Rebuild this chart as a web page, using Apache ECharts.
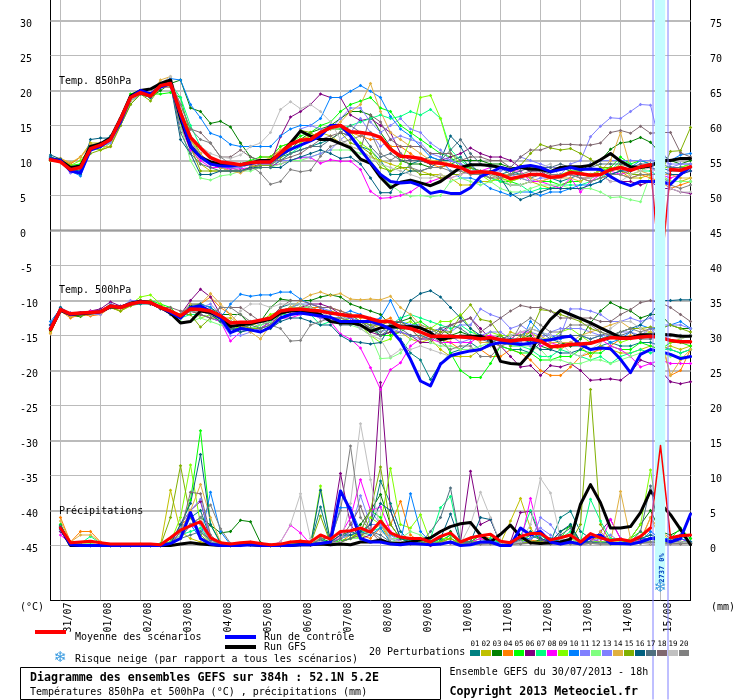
<!DOCTYPE html>
<html><head><meta charset="utf-8">
<style>html,body{margin:0;padding:0;background:#fff}#c{width:740px;height:700px}</style>
<script src="https://cdn.jsdelivr.net/npm/echarts@6/dist/echarts.min.js"></script>
</head><body><div id="c"></div>
<script>
const _ = null;
const dateLabels = ['31/07','01/08','02/08','03/08','04/08','05/08','06/08','07/08','08/08','09/08','10/08','11/08','12/08','13/08','14/08','15/08'];
const dateTickIndex = [1,5,9,13,17,21,25,29,33,37,41,45,49,53,57,61];
const leftTicks = [30,25,20,15,10,5,0,-5,-10,-15,-20,-25,-30,-35,-40,-45];
const rightTicks = [75,70,65,60,55,50,45,40,35,30,25,20,15,10,5,0];
const heavyLines = [30,20,10,-10,-20,-30,-40];
const lightLines = [25,15,5,-5,-15,-25,-35,-45];
const memberColors = ['#008080','#c0c000','#008000','#ff8000','#00ff00','#800080','#00ff80','#ff00ff','#80ff00','#0080ff','#8080ff','#80ff80','#8080ff','#e0b040','#80b000','#006080','#507080','#806870','#c0c0c0','#808080'];

const meanT850 = [10.1,9.8,8.7,9,11.7, 12.2,13,15.9,19,19.7, 19.2,20.7,21,16.8,13.3, 11.8,10.4,9.8,9.6,9.4, 9.7,9.8,9.8,11.1,12.3, 12.9,13,14,14.7,15, 14.1,14,13.8,13.3,11.6, 10.6,10.5,10.3,9.7,9.6, 9.3,9,8.3,8.4,8.3, 8,7.4,7.7,8,8, 7.6,7.7,8.3,8.1,7.9, 8,8.7,9,8.6,9.1, 9.4,-7,8.7,8.6,9.1];
const controlT850 = [10.2,10,8.5,8.2,11.5, 12,13,15.5,19,20, 19.5,20.5,21,16.5,12, 10.5,9.5,9.2,9.2,9.4, 9.6,9.8,9.8,10.8,11.6, 12.2,12.8,13.5,15,15, 13.5,11.6,9.7,8,7, 6.8,6.9,6.4,5.3,5.6, 5.3,5.3,6.1,7.7,8.3, 9,8.6,9.1,9.3,9, 8.4,8.7,9,8.7,8.8, 8.7,7.7,6.9,6.4,7, 7,7,6.6,8,9.1];
const gfsT850 = [10.2,10,9,9.2,12, 12.4,13.2,16,19.2,20, 20.2,21,21.5,16,12, 10.5,9.8,9.5,9.4,9.4, 9.6,10,10,11,12.5, 14.2,13.5,13,13,12.4, 11.8,10.2,9.6,7.6,6.1, 6.9,7.2,6.8,6.4,7, 8,9,9.4,9.4,9.3, 9,8.7,9,8.8,8.7, 8.4,9,9.1,9.1,9.3, 10.1,11,9.9,9.1,9, 9.2,10,10,10.3,10.3];
const membersT850 = [
[10.5,10,8.5,8,12, 12.5,13.5,15.5,19,19.5, 19,20.5,21.5,15,11.5, 10.5,9.5,9,9,9, 9.5,10,10,10.5,11, 11.5,12,12.5,13,14, 13.5,12,11.5,10,8, 8,9.5,10,10.5,10, 10,10.5,9,8.5,8, 8,8.5,8,7.5,8, 7.5,7,7.5,8,8, 8.5,8.5,9,8.5,9, 9.5,9,8.5,8.5,8.5],
[10,10,9.5,10.5,12.5, 12.5,13,15.5,19,19.5, 19.5,21,21.5,17,12, 9.5,8.5,8.5,8.5,8.5, 9,9.5,10.5,12,12.5, 13,13.5,14,13.5,12.5, 12,11.5,10.5,10,9.5, 9,8.5,8.5,8,8, 7.5,6.5,6.5,7,7, 7.5,7,7.5,7,6.5, 6,6.5,7,7,8, 8.5,8,8,7.5,7.5, 8,8,7,7,7.5],
[10.5,10,9,9,11.5, 12,13,15,18,19.5, 19,20,21,21.5,17.5, 17,15.3,15.6,14.8,12.5, 10.5,10,10,10.5,11.5, 13,14,14.5,15,16, 17,17,16.5,14,12, 10,9.5,9.5,9,9, 9.5,10,10,10,9.5, 9.5,9,9,8.5,9, 9,9,8.5,8.5,9.5, 10,11.6,12.5,12.7,13.3, 12.6,11,10,9.5,10],
[10.3,10.3,9.5,10.5,12, 11.5,12,15.5,19,19.5, 19,21,21.5,17,13, 11,9.5,9,9,8.5, 9,10.5,10.5,11.5,12.5, 13,13.5,14,14.5,14.5, 14,13.5,13,13,12, 12,11,10,9.5,9, 9.5,9,8,8,8.5, 7,6.5,6.5,7,7, 7.5,8,8,7.5,7, 7.5,8,8.5,7.5,8, 7.5,7,6,6.5,7],
[10,10,9.3,9.5,12, 12,13,16,19.5,20, 19.5,19.5,19.7,19,13.5, 11,9.5,9,9,9.5, 10,10.5,10.5,12,12.5, 13.5,14,15,15.5,17, 18,18.5,19,17.5,17, 15,14,13,12,11, 10.5,9,9,8,7.5, 7,7,6.5,7,7, 7,6.5,7,7,8, 8.5,9,10.5,9.5,10, 9.5,9,9,9,9.5],
[10.3,10,9,9,12, 12.5,13,16,19,20, 19,21,21,15,12.5, 10.5,9.5,9,8.5,8.5, 9,9.5,9.5,13.4,16.2, 17,18,19.5,19,19, 16.5,15.7,16,15,14, 11,10,10,9.5,10, 10.5,11,11.8,11,10.5, 10.5,10,9,8.5,8.5, 7.5,7.5,8,7.5,7.5, 8,7,7,7,6.5, 7,6,6,5.5,5.3],
[10,10,9,8.8,11.5, 12,13,15.5,19,19.5, 19,20.5,21,19,15, 12,10.5,9.5,9,8.5, 9,9,9,10,11, 12,13,14,14.5,14.5, 15,15.5,16,16.5,16, 16.3,17,16.5,17.3,16, 11.6,10,9,8,7.5, 7,6.5,6.5,5.5,6, 6,6.5,6.5,6.5,7, 7.5,8.5,10,9.5,8.5, 8.5,7.5,7,7,7],
[10,10,8.3,8.5,11.5, 12,13,15.5,19,19.5, 19,20.5,20.5,15,11.5, 10,9,9,8.8,8.8, 9,9.3,9.3,9.5,10, 10.4,10.4,9.6,10.1,9.9, 9.9,8.7,5.6,4.6,4.7, 5,5.5,6.5,7,7.5, 7.5,8,8.5,8.5,9, 9,8.5,8.5,7,7, 6.5,6,7.5,5.5,7, 8,8.5,8,8.5,9, 9,8,7.5,8,8.5],
[10,9.8,9.3,10,11.8, 11.5,12.5,15,18.5,19.5, 19.5,21,21.5,17,13, 10.5,9.5,9,8.5,8.5, 9,9.3,9.3,10.5,11.5, 12.5,13.5,14,14.5,15, 14,12.5,11.5,9.5,8.5, 9.5,13,19,19.3,16, 11,9.5,8.5,8,7, 7.5,7,7.5,8,8, 7.5,8,8.5,8.5,7.5, 9,8.5,9.5,8,8.5, 9.5,9,9,9,9.5],
[10.5,10,8.5,7.8,11.5, 12,13,16,19,19.5, 19,20.5,21.7,21.5,18, 16.1,13.9,13.4,12.3,12, 12,12,12,13.5,14.5, 15,15,16,19,19, 19.9,20.7,19.9,19,16.3, 14.5,13.5,12,10.5,10, 8.5,7.5,7.5,7,6, 5.5,5,5.5,5.5,5, 5.5,5.5,6,6.5,6.5, 7,8,8.5,9,10, 9.5,10,10,10.8,11],
[10.2,10,8.2,8.5,11.5, 12,13,15.5,19,19.5, 19,20.5,21,15.5,12, 10.5,9.5,9,8.5,8.5, 9,9.3,9.3,10.5,12.5, 14.5,15,14.5,14.5,16, 17.5,17.5,15.5,14,15, 16,14.5,14,12.5,11.5, 10,9.5,9,8.5,8.5, 8.5,9,10.5,10,9.5, 9,9,9,9,9.5, 10,10,10,10,10, 10,10,9.5,9.5,9.5],
[10,10,9,9,11.5, 12,12.5,15,18.5,19.5, 19,20.5,21,15,10, 7.5,7.2,7.8,8,8.5, 8.5,9,9,9.5,10, 10,10.5,11,11.5,11.5, 11.5,11,10,8,6.5, 5.5,4.9,5,4.8,5, 7,7.5,7,6.5,7, 6,5.5,5.5,6,6.5, 6.5,6.5,6,6,6, 5.5,4.7,4.8,4.4,4.1, 8,8,7,7,7],
[10.2,10,8.5,8.5,11.5, 12,12.5,15,18.5,19.5, 19.5,21,21.5,16,12.5, 11,9.5,9,9,9, 9.5,9.5,9.5,10,10, 10.5,10.5,11,11.5,13, 14,16,14,12,13, 13.5,13,12.5,11,10.5, 10,9.5,8.5,8.5,7.5, 8,8,7.5,7,7.5, 7.5,8,9.5,10,13.4, 14.9,16.1,16,17,18, 17.9,12,9,9.5,9.5],
[10.3,10.3,9.7,10.5,12.3, 12,12,15,18.5,20, 19.5,21.5,22,17,13, 11,9.5,9,8.5,8.2, 9,10,10.3,11.5,12.5, 13,13.5,14,14.5,15.5, 17,18,21,17,14, 13,12,11,10,10, 9.5,9,8.5,8,7.5, 8,8,8,7.5,7, 7.5,7.5,7.5,7,8, 8.5,10,14,9,8.5, 8,8,8,7.5,7.5],
[10,10,9,9,11, 11.5,12,15,18,19.5, 18.5,20.5,20.5,17,12, 8.5,8.5,8.5,8.5,8.5, 9,9.3,9.3,10.5,12, 14.3,14,13,13,14, 12.5,12,11,9,8.5, 9,9,8,8,7.5, 8,8,9,8.5,8, 7.5,8,9.3,11,12.3, 11.8,11.5,11.7,11,10.2, 9,9,8.5,8,8, 8,8,11.3,11.4,14.7],
[10.8,10.2,8.7,8.5,13, 13.2,13.2,16,19,19.5, 19,20.5,21,13,11, 8,8,8.5,8.5,8.5, 9,9,9,9,10, 10.5,11,11.5,11,10.3, 10.5,9.5,7.5,5.4,5.4, 8,8.5,8.5,9,10, 13.5,12,9.5,8,8.5, 7.5,5.3,4.4,5,5.5, 6,6,6,6,6.5, 7,8,8.5,8.5,9, 9,8.5,8,8,8.5],
[10.2,10,8.8,8.8,12, 12,13,16,19,19.5, 19.5,21,21,14,11, 9.5,9,8.5,8.5,8.5, 8.8,9,9,10,11, 11.5,12,12,13,14, 15,14,12,10.5,11, 10,10,10,9.5,10, 11.5,13,11,9.5,9, 9,8,8.5,9,9, 9,9.5,9,8.5,9, 9.5,9.5,9.5,9,9.5, 9.5,9.5,9,9,9],
[10.2,10,8.8,9,12, 12,13,15.5,19,19.5, 19.5,21,21.5,18,14.5, 14,12.5,10.5,10.5,11.5, 10.5,10,10,10,10.5, 11,12,13,13.5,14, 13.5,11.5,16.5,15.5,13, 12,12,12,11,11, 11,10,10.5,10.5,10, 10,9,10.5,11.5,11.5, 12,12.3,12.3,12.2,12.2, 12.5,14,14.3,13.9,14.9, 13.9,14,14,11.1,10.5],
[10.2,10,9,9,11.5, 12,13,15.5,19,20, 19.5,21,22,17.5,13.5, 12,11,10.5,10.3,10.8, 12,12.5,14,17.3,18.4, 17.4,18,17,15.5,13, 12,11.5,10.5,9.5,9, 8.5,8,7.5,7.5,8, 7.5,8,8.5,8.5,8, 7.5,6.5,6.5,7,9, 9.5,7.5,8,7.5,7.5, 8,7,7,8,8.5, 9,8,6,5.5,5.5],
[10.2,10,9,9,11.5, 12,13,15.5,19,19.5, 19.5,20.5,21,18,14.5, 13,12.5,10.5,9.5,9.5, 9.3,8.2,6.6,7,8.7, 8.4,8.6,10.6,12,12.5, 13,13.5,14,11,10, 11,9,8.5,9,9, 8.5,8.5,8,8,7.5, 7.5,8,8,8.5,8.5, 8,8,8,7.5,7, 7.5,8,8,7.5,8, 8,8,6.5,6,6.5]
];

const meanT500 = [-14.1,-11.3,-11.9,-11.8,-11.7, -11.6,-10.8,-11,-10.5,-10.2, -10.3,-11,-11.5,-12.2,-11.2, -11.3,-11.5,-12.2,-13.2,-13.1, -13.1,-12.8,-12.5,-11.5,-11.3, -11.2,-11.4,-11.5,-11.8,-12, -12.2,-12.2,-12.6,-13,-13, -13.8,-14,-14.5,-15.1,-15.1, -15.1,-15.2,-15.3,-15.5,-15.3, -15.6,-15.8,-15.6,-15.5,-15.8, -16.6,-16.5,-16.3,-16.2,-16.1, -15.7,-15.3,-15.4,-15.4,-15.2, -15.1,-15.3,-15.7,-15.9,-15.9];
const controlT500 = [-14,-11.3,-12,-11.8,-11.7, -11.6,-10.8,-11,-10.5,-10.2, -10.3,-11,-11.7,-12.5,-11, -10.8,-11.5,-12.5,-14.6,-14, -14.2,-14.5,-13.8,-12.5,-12, -11.8,-12,-12.2,-12.4,-13, -13,-13,-13,-13.4,-14.1, -15.8,-18.4,-21.5,-22.2,-19.1, -17.9,-17.5,-17.2,-17,-16.3, -16,-16.1,-16.3,-16.1,-15.8, -15.6,-15.3,-15.1,-16.3,-17, -16.8,-16.9,-18.4,-20.3,-17.7, -17,-17.3,-17.7,-18.3,-18];
const gfsT500 = [-14.2,-11.4,-12,-11.9,-11.8, -11.6,-10.9,-11,-10.4,-10.1, -10.3,-11,-11.8,-13.2,-13, -11.5,-11.7,-12.5,-13.7,-13.5, -13.3,-13,-12.7,-11.8,-11.5, -11.5,-11.6,-12,-13,-13.2, -13.2,-13.5,-14.4,-13.9,-13.7, -13.8,-13.7,-13.9,-14.6,-15.6, -15.3,-15.1,-15.1,-15.1,-15.6, -18.7,-19,-19.1,-17.5,-14.6, -12.7,-11.4,-12,-12.6,-13.2, -13.9,-14.6,-15.3,-15.3,-14.9, -14.9,-14.9,-14.9,-15.1,-15.1];
const membersT500 = [
[-13.5,-11,-12,-12.2,-11.8, -11.5,-11,-11,-10.7,-10.5, -10.5,-11,-11.5,-12.5,-11, -11.5,-12,-13,-14,-14, -13.5,-13,-12.5,-11,-10.5, -10.5,-11,-12,-13,-13, -12.5,-13,-13.5,-15,-14.5, -15.5,-17.5,-18.5,-21.3,-19, -17.5,-17,-16,-17,-16, -16.5,-17,-17,-17.5,-16, -15.5,-16,-16.5,-16.5,-17, -16.5,-16,-16.5,-16.5,-16, -16,-16.5,-17,-17.5,-17],
[-14.5,-11.5,-12.2,-12,-12, -11.8,-11,-11.5,-10.8,-10.3, -10.5,-11,-11.5,-12.5,-11.5, -11,-12,-12.5,-12.5,-13.5, -13,-14,-13,-12,-11.5, -11,-11.5,-12,-12.5,-12.5, -13,-13.5,-14,-13.5,-15, -14.5,-15.5,-16,-15.5,-17, -18,-18,-18,-17,-16.5, -16,-14.5,-15,-14.5,-15.5, -16.5,-17,-16,-16.5,-18, -16.5,-17,-17.5,-17.5,-17, -16.5,-17,-16.5,-17,-16.5],
[-14,-11.5,-12.2,-12.3,-11.8, -11.5,-10.8,-11,-10.5,-10.2, -10.2,-10.8,-11.5,-12.5,-10.7, -10.5,-11,-12,-12,-12, -13.5,-13,-11,-9.8,-10, -10,-10,-9.5,-9.2,-9.5, -10.5,-11,-11.5,-12,-13.5, -13,-12.5,-14,-14.5,-14, -15,-14.5,-15,-15.5,-15.5, -15,-16,-15.5,-15,-16.5, -17,-16,-16.5,-15.5,-13.2, -11.5,-10.3,-11,-11.5,-12.5, -12,-12,-13.5,-14,-14],
[-14.7,-11.5,-12.5,-12,-12.2, -12,-11,-11.5,-10.5,-10, -10.3,-11,-11.5,-12.5,-11.5, -10.5,-9.5,-11,-12,-13.5, -14,-14,-13,-11.5,-11, -11,-11,-11,-11,-11.5, -12,-12.5,-12.5,-13,-12.5, -14,-14,-15.5,-14.5,-15.5, -16,-17,-17,-17,-18, -18,-17,-17.5,-18.5,-20, -20.7,-20.7,-19.5,-18,-17.5, -17,-16.5,-15.5,-15,-15.5, -15,-15.5,-20.7,-20,-17],
[-14,-11.2,-12,-11.8,-11.5, -11.5,-10.5,-11,-10.5,-10.2, -10,-10.5,-11,-12.5,-11.5, -12,-12.5,-13,-13.5,-14, -14,-13.5,-13,-12,-11, -10.5,-11,-11.5,-11.5,-12, -12,-13,-14,-15,-15, -14.5,-13.5,-13,-14,-15, -17.5,-20,-21,-21,-19, -16.5,-17,-17.5,-17.5,-18.5, -18.5,-18,-18,-17,-17.5, -17.5,-16.5,-17,-17,-16, -16.5,-17,-16,-16,-16.5],
[-14,-11.3,-11.8,-11.8,-11.5, -11.2,-10.2,-10.8,-10.3,-10, -10.5,-11,-11.5,-12,-10, -8.4,-9.5,-12,-13,-13.5, -14.5,-14,-13,-11.5,-11, -11,-10.5,-10.5,-11,-12, -12.5,-13.5,-14.5,-15,-14.5, -14.5,-15,-16,-16,-14.5, -13.5,-13,-12.5,-14,-15.5, -16.5,-18,-19.5,-19.3,-20.7, -19.3,-19.5,-19,-20,-21.4, -21.3,-21.2,-21.4,-20.3,-18.5, -19,-20,-21.6,-21.9,-21.6],
[-14,-11.2,-12,-12,-11.7, -11.5,-11,-11,-10.5,-10.2, -10.5,-11,-11.5,-12.5,-12, -12,-12.5,-13,-13.5,-14.5, -14,-14,-13,-12,-12, -12,-12,-13.5,-13,-13, -13,-13.5,-14,-14.5,-13.5, -12.5,-12,-12.5,-13,-13.5, -14,-13.5,-14.5,-15,-15.5, -15.5,-16.5,-16.5,-17,-18, -18,-17,-17.5,-18,-18.5, -18,-19,-18,-17.5,-17, -17.5,-17,-17,-17.5,-17],
[-13.5,-11.2,-12,-11.8,-11.5, -11.5,-11,-11,-10.5,-10.2, -10.5,-11,-11.5,-12.5,-11.5, -12,-12.5,-13,-15.8,-14.5, -14,-14,-13,-12.5,-12.5, -12,-12,-12.5,-13,-14.8, -15.5,-16.8,-19.6,-22.7,-19.9, -18.9,-16.5,-15.5,-15.5,-16, -16,-16,-16,-15,-15, -15.5,-15.5,-14.5,-14.5,-16.5, -16,-16.5,-16,-16.5,-16, -15.5,-16.5,-17,-18,-19.5, -19,-18.5,-19,-19,-19],
[-14,-11.3,-12,-12,-11.8, -11.5,-11,-11.5,-10.5,-9.5, -9.2,-10.5,-11.5,-12.5,-11, -12.5,-12,-13,-13.5,-14, -13.5,-13,-12,-11.5,-11, -11,-11,-11.5,-11.5,-12, -13,-13.5,-15,-16,-15.5, -13.5,-13,-14,-14,-13, -13,-12,-14,-15.5,-14.5, -15,-15,-15,-16,-15.5, -15.5,-14.5,-14,-15,-16, -15.5,-15,-16,-15.5,-15, -14.5,-15,-16,-15.5,-15],
[-13,-11.2,-12,-11.8,-11.7, -11.8,-11,-11,-10.3,-10.2, -10.3,-11,-12,-12,-10.5, -10.5,-11,-12.5,-10.5,-9.1, -9.4,-9.2,-9.2,-8.8,-8.8, -9.8,-10.5,-11,-12,-12, -11.5,-12,-13,-12.5,-10, -13,-13.5,-13.5,-14,-15, -15,-15,-15.5,-15,-15.5, -15.5,-16,-16,-13,-14.5, -15,-15.5,-15,-15,-15.5, -15,-16,-15.5,-14.5,-13.5, -14,-14,-13.5,-13,-14],
[-13.5,-11.2,-12,-11.8,-11.8, -11.8,-11,-11,-10.5,-10.2, -10.2,-11,-11.5,-12,-11.5, -11,-10.5,-12,-13.5,-13.5, -13,-13.5,-13,-12,-11, -10.5,-10.5,-11,-11.5,-12.5, -12.5,-13,-13.5,-14.5,-14, -13.5,-13.5,-14,-14.5,-14, -14.5,-13.5,-13.5,-11.2,-12, -12.5,-14,-13.5,-14.5,-15, -15,-15,-11.2,-11.2,-11.5, -12,-13,-13,-12.5,-13, -12.5,-13.5,-13.5,-13.5,-14],
[-14,-11.3,-12,-12,-12, -11.7,-11,-11,-10.5,-10, -10,-11,-12,-13,-13, -12.5,-13,-13.5,-14,-14.5, -14,-13.5,-13,-12,-11, -11,-11,-12,-12.5,-13, -13.5,-14,-15,-18.3,-18.2, -17.5,-15.5,-14.5,-16,-16.5, -16.5,-17,-17,-16.5,-16, -15.5,-16.5,-16.5,-16.5,-17, -18.5,-18.5,-19,-19,-18.5, -18.5,-19,-18.5,-18,-17.5, -17,-17.5,-18,-18,-18],
[-14,-11,-11.8,-11.8,-12, -12,-10.5,-11,-10,-10, -10.5,-11,-12,-12,-11, -11.5,-12,-13,-15,-15, -14.5,-14,-13.5,-12.5,-12, -12,-12,-12.5,-13,-13.2, -13,-14,-13.5,-13.5,-14, -14.5,-15,-15.5,-15,-15.5, -15,-16,-15.5,-15,-14.5, -14.5,-15.5,-16,-16.5,-15.5, -14.5,-14,-14,-14,-14.5, -15,-15,-14.5,-14.5,-15, -14,-15.5,-15,-15,-15],
[-14.7,-11.5,-12.3,-12,-12, -11.8,-11,-11.5,-10.5,-10.2, -10.5,-11,-11.5,-12,-10.5, -10.5,-9,-10.5,-12,-13.5, -14.5,-15.5,-13.5,-12,-11, -10,-9.2,-8.8,-9.3,-9, -9.8,-9.9,-9.8,-9.9,-9.4, -11,-12,-13.5,-14,-15, -15.5,-15,-15,-16,-16, -16.5,-16,-15,-15.5,-15, -16,-16,-16,-15,-14.5, -14,-13.5,-13,-14,-14, -14.5,-15,-20.7,-18.5,-17],
[-14.2,-11.5,-12,-12.2,-11.8, -11.5,-11,-11.5,-10.7,-10, -10,-11,-11.5,-12,-12, -13.8,-12.5,-12.5,-13,-13.5, -14,-14,-13.5,-12,-11.5, -11.5,-12,-12,-12.5,-12.5, -13,-13,-13.5,-13.5,-13, -13,-14,-14,-14,-14.5, -14.5,-12.2,-10.6,-12.7,-13, -15,-16.5,-15.5,-14.5,-11.3, -11.5,-12,-12.5,-13,-14, -14.5,-15,-14.5,-14,-14, -13.8,-14,-13.5,-14,-14.5],
[-13.5,-11,-12,-12,-11.8, -11.5,-10.8,-11,-10.5,-10.2, -10.5,-11.2,-11.8,-12.5,-11, -10.5,-12,-13,-14,-14.5, -14.2,-14.5,-14,-13,-12.5, -12.5,-13,-13.5,-13.5,-15, -15.8,-16,-16.2,-16,-13.5, -13,-10,-9,-8.6,-9.5, -11,-12.5,-14,-15,-16, -15.5,-15.5,-15.5,-16,-17, -17,-17.5,-17.5,-17,-16, -15.5,-15,-14.5,-14,-13.5, -12,-10,-10,-9.9,-9.9],
[-14,-11.3,-12,-12,-11.8, -11.5,-10.8,-11,-10.5,-10.3, -10.5,-11,-12,-12.5,-11, -11,-11.5,-12.5,-14,-14, -13.5,-14,-13.5,-12,-11.5, -11.5,-11,-11.5,-12.5,-13.5, -13.5,-13,-14,-15,-14, -14,-15,-15,-15.5,-14, -13.5,-14,-15,-15.5,-16, -15.5,-15,-15,-14,-14.5, -15.5,-15,-15,-15,-15.5, -15,-14.5,-15,-14.5,-15.5, -15.5,-14.5,-15,-15,-15],
[-14,-11.2,-12,-11.8,-11.8, -11.5,-10.8,-11,-10.5,-10.2, -10.3,-11,-11,-11.5,-11.5, -12,-12.5,-11,-11,-11, -12,-13,-12.5,-11,-10, -10,-10.5,-11,-11,-11.5, -12,-13,-14,-13,-13, -13,-14,-15.5,-15.5,-15, -13.5,-13,-12.5,-14.5,-13.5, -12.5,-11.5,-10.7,-11,-11, -11.5,-12.5,-12.5,-12.5,-12.5, -13,-13,-12,-11.3,-10.3, -10,-10.3,-11,-12,-13],
[-14,-11.3,-12,-12,-12, -11.7,-11,-11,-10.3,-10.2, -10.3,-11,-11.5,-12.5,-11.5, -11.5,-12,-12.5,-13,-11.5, -10.5,-10.5,-11,-10.5,-10.5, -10.5,-11,-11.5,-12.5,-13, -13,-14,-15,-15.5,-18, -17,-17,-16.5,-17,-17.5, -18,-17.5,-17,-17,-16.5, -16,-15,-14.5,-14,-14.5, -15,-16,-17.5,-18,-17, -16,-14,-13,-13,-14, -15,-15,-15,-15.5,-15],
[-14,-11.3,-12,-12,-11.8, -11.5,-11,-11,-10.5,-10.3, -10.3,-11,-11.5,-12.5,-11.5, -11.5,-12,-11,-11,-12, -13,-13,-13.5,-14,-15.8, -15.7,-13.5,-13,-12.5,-12.5, -13,-13.5,-14,-14.5,-13.5, -13.5,-14,-14.5,-15,-16, -17,-16.5,-16.5,-18,-18, -16.5,-16,-13.5,-12.5,-13.5, -14.5,-14.5,-13.5,-13.5,-13.5, -14.5,-15,-14.5,-14,-14.5, -14,-14.5,-15,-15,-15]
];

const meanPrecip = [_,2.5,.4,.5,.6, .4,.2,.2,.2,.2, .2,.1,1.1,2.2,2.8, 3.4,1.1,.4,.2,.4, .5,.3,.1,.2,.5, .6,.5,1.5,.9,2, 2.1,2.5,1.9,3.5,1.8, 1.2,1,1,.5,1.3, 1.8,.5,1.1,1.4,1.6, .6,.4,1.3,1.7,1.7, .8,1.1,1.5,.5,1.7, 1.1,.7,.9,.6,1.3, 2.5,14.3,1.1,1.4,1.5];
const controlPrecip = [_,2.5,.1,0,0, 0,0,0,0,0, 0,0,.3,1,4.7, 1,.2,0,0,0, .1,0,0,0,0, .1,.1,.3,.5,7.8, 5,1,.5,.5,.2, .1,.3,.2,.1,.2, .5,0,.1,.5,.5, 0,0,2.5,1.5,2, .5,.2,.5,.2,1.2, 1.5,.3,.3,.2,.5, 1,1,.5,1,4.5];
const gfsPrecip = [_,2.5,0,0,0, 0,0,0,0,0, 0,0,0,.2,.4, .2,.1,0,.1,.2, .1,0,0,0,0, .1,.1,.2,.1,.2, .1,.5,.5,.8,.3, .3,.5,.8,1.1,2, 2.7,3.1,3.3,1.5,.5, 1.6,2.9,1.3,.4,.3, .4,.5,.9,5.9,8.7, 6.1,2.5,2.5,2.7,4.7, 7.8,6,4.4,2.3,.1];
const membersPrecip = [
[_,3,.2,.1,0, 0,0,0,0,0, 0,0,1,2,4, 5,1,.2,0,.2, .2,.1,0,0,.3, .5,.2,5.5,.3,1, 2,1.5,3,9.2,6, 2,.5,.3,0,.5, 1.5,.3,1,1.5,.5, 0,.5,1,1,1.5, .5,4,4.9,2,1, .5,.5,.2,.5,1, 1,.5,.5,1,.5],
[_,2.8,.5,.4,.3, 0,0,0,0,0, 0,0,7.9,2,1, .5,.2,.1,0,.1, .1,0,0,0,.2, .3,.2,1,.3,.5, 1,1.5,2,3,.5, .5,.3,.2,.2,.5, 1,.3,.5,1,.5, .3,3.5,6.7,2.5,.5, .3,.5,.5,.5,1, 1,.5,.3,.5,.5, .5,.5,.5,.5,.3],
[_,2.5,.2,.1,.1, 0,0,0,0,0, 0,0,.2,1.5,3, 4,2.9,1.8,2,3.6, 3.4,.4,0,0,.2, .2,.1,1,.5,1.5, 2,3,5,7.3,3, 1,.8,.8,.3,1, 2,.5,.5,1.5,1.5, .3,.2,.5,.5,.8, .5,2,2.8,.5,.5, .5,.3,.3,1,3, 5,2,1.5,2.2,1],
[_,4,.5,2,2, .5,.1,0,0,.2, 0,0,.3,3,4, 2,.5,.2,0,.1, .1,0,0,0,.5, .7,.3,.5,.2,.5, 1.5,1.5,1,2.5,3, 6.3,1.5,.5,.3,.5, 1,.3,1,1.5,1, .3,.5,1,.8,.5, 1,.5,.5,.2,.5, .3,.3,.5,.3,.8, 4,2,1,.5,.3],
[_,3,.3,.1,.1, 0,0,0,0,0, 0,.3,.5,2.5,6.5, 16.4,3,.5,0,.1, .1,0,0,0,.1, .1,.1,1,.3,.7, 1,2,5,4,1.5, 1,.3,.3,.3,.7, 1.5,.3,.5,1.5,1.5, .2,.1,.5,1.5,1, .5,1,3,.5,.5, .5,.2,.3,1,2, 1,.5,1,2.5,1],
[_,2,.3,.1,0, 0,0,0,0,0, 0,0,.3,3,5, 6.3,1,.2,0,.1, .1,0,0,0,0, .1,.1,.5,1.5,10.3, 3,1,1.5,23.3,5, 1,.5,.3,0,.5, .5,.5,10.6,3,3.7, .3,.5,4.7,4.9,1, .5,.5,.5,.2,.5, 2,3.7,1,.3,.5, .5,.5,.5,.5,.3],
[_,2.2,.2,.3,1.3, .3,0,0,0,0, 0,0,.5,1.5,2, 2.5,.5,.2,0,.1, .1,0,0,0,.1, .2,.1,1,.3,1, 1.5,2,2,2.5,.5, 1,.5,.5,1,5.4, 7,.5,.5,.5,1, .3,.2,1.3,5,1.5, .3,1,2,.5,6.6, 3.5,1,1,.5,.5, 1,.5,.5,.5,.5],
[_,1.5,.3,.1,0, 0,0,0,0,0, 0,.1,.3,2,3, 2,.3,0,0,0, .1,0,0,.5,2.9, 1.8,.2,.3,.1,1.5, 4,9.4,5,5.5,2, .5,.3,.2,.2,.3, .3,.2,.5,1,.5, .2,.3,.3,6.7,1, .3,.5,1,.3,1, .5,3.7,1,.5,.8, 1,1,.5,1,.3],
[_,2.6,.2,.1,0, 0,0,0,0,0, 0,0,.5,4,11.5, 3,.5,.1,0,.1, .1,0,0,.1,.2, .2,.1,8.5,.5,1, 1.5,1,4,3,11, 3,2.5,4.4,.5,1, 1,.3,.5,.5,.5, .3,.2,.5,1,1.5, 1,.5,1,.3,.5, .5,.5,.5,1,3, 10.8,2,.5,.5,.5],
[_,2.5,.3,.1,0, 0,0,0,0,0, 0,0,.2,1,3, 1,7.6,2,.1,.2, .1,0,0,0,.1, .1,.1,.5,.5,5.4, 5.4,2,1.5,2.5,.5, .5,7.4,2,.5,.3, .5,.2,.3,.5,.7, .3,.2,1,1,1.5, 1,.5,.5,.3,.5, .3,.5,.2,.3,.5, 2,1,1,1,.5],
[_,2.2,.2,.1,0, 0,0,0,0,0, 0,0,.2,3,5, 6.6,1,.2,.1,.3, .5,.1,0,0,.1, .2,.1,.5,.5,1, 2,7.1,3,3,1.5, .5,.5,.3,.2,.2, .5,.2,.3,.3,.5, .2,.3,.5,.5,4, 3,1,.5,.3,.5, .3,.5,.3,.3,.5, 1,.5,.5,.5,.5],
[_,2.3,.2,.1,.3, 0,0,0,0,0, 0,0,.1,1.5,4, 2,.3,.1,0,.1, .1,0,0,.1,.2, .2,.1,.5,.3,.5, 1,1,2,3.5,1, 1,2,1.5,.5,.5, 1,.2,.5,.5,.5, .2,.2,.3,.5,.5, .3,.5,1,.3,.5, .3,.5,.3,.3,.5, .5,.5,.5,.3,.3],
[_,2.5,.2,.1,0, 0,0,0,0,0, 0,0,.3,2.5,4, 3,.5,.1,0,.1, .1,0,0,0,.1, .1,.1,.3,.3,1, 1.5,2,5,3,1, .5,.3,.3,.2,.2, .5,.2,.3,.3,.3, .1,.2,.3,1,2.5, 1.5,.5,.5,.2,.5, 1,1.5,.5,.2,.5, 1,.5,.5,.3,.3],
[_,3.5,.5,1.5,1.5, .5,.1,0,0,.2, 0,0,.2,2,5, 8.7,4,.5,.1,.1, .1,0,0,0,.1, .1,.1,.5,.2,.5, 1,1.5,2,3.5,.5, .5,.3,.3,.2,.3, .5,.2,.5,.5,.5, .2,.3,1,.5,.5, .3,.3,.3,.2,.3, 2,.5,7.7,1,.5, 4,1,.5,.5,.3],
[_,2.8,.3,.2,.1, 0,0,0,0,0, 0,0,4,11.4,4, 1.5,.3,.1,0,.1, .1,0,0,0,.1, .2,.2,4.2,.3,.5, 1,2,5,11.2,3, 1,.5,.5,.2,.5, 1,.2,.3,.5,.5, .1,.2,.3,.5,.5, .3,.5,.5,3,22.3, 3,.5,.3,.3,.5, 1,.5,.3,.3,.3],
[_,2.8,.2,.1,0, 0,0,0,0,0, 0,0,.2,3,6, 13,3,.3,0,.1, .1,0,0,0,.1, .1,.1,7.9,.5,1.5, 1.5,2,3,6,5, 1,.5,.3,.3,1, 4.5,.5,.5,4,3.7, .3,.3,1,2,1, .5,2,3,.5,.5, .3,.5,.3,.5,1, 1.5,1,.5,1.5,.5],
[_,2.7,.2,.1,0, 0,0,0,0,0, 0,0,.1,1,1.5, 2,.8,.2,0,.1, .1,0,0,0,.1, .1,.1,.8,.3,.5, 1,1.5,2,1.5,.5, .3,.3,.3,2,4, 8.2,.5,.5,.5,.5, .2,.2,.8,1.5,.8, .3,1.5,2.5,.3,.5, .3,.3,.3,.5,2, 8.5,1,.5,.5,.3],
[_,2.6,.2,.1,0, 0,0,0,0,0, 0,0,.1,2,7.6, 7.4,1.5,.2,0,.1, .1,0,0,0,.1, .1,.1,.3,.3,1, 3,5.6,2,.5,.3, .3,.2,.2,.2,.2, .5,.1,.2,.2,.3, .1,.2,.3,.3,.3, .2,.3,.3,.1,.3, .2,.2,.2,.2,.3, .2,.2,.2,.2,.3, .5,3,6.1,6.6,1],
[_,2.3,.2,.1,0, 0,0,0,0,0, 0,0,.2,1.5,3, 4,1,.2,0,0, .1,0,0,.5,3, 7.4,1,.5,.3,.5, 6,17.4,9.4,2,1, .5,.3,.2,.2,.3, .3,.2,3,7.6,4, .3,.2,.5,3,9.6, 7.5,1,.3,.2,.3, .2,.2,.2,.2,.3, .3,.3,.3,.5,.3],
[_,2.5,.2,.1,0, 0,0,0,0,0, 0,0,.1,1,3, 4,5.8,2.4,.3,.1, .1,0,0,0,.1, .1,.1,1,1,5, 14.2,4,2,1,.3, .2,.2,.2,.2,.3, .3,.2,.2,.2,.2, .1,.2,.2,.3,.3, .2,.2,.2,.2,.3, .2,.2,.2,.2,.3, .5,.3,.3,.3,.2]
];

const snowBand = [60.45, 61.47, -50.4];
const glitchLines = [60.25, 61.75];
const imageBottomValue = -67;
const spikeIndex = 61;

const MONO = '"DejaVu Sans Mono", "Liberation Mono", monospace';
const yTop = 230.5/7, yBottom = (230.5-600.5)/7;
const pts = a => a.map((v,i)=> v===null ? null : [i,v]).filter(Boolean);
const withoutSpike = a => a.map((v,i)=> v===null ? [i,null] : (i===spikeIndex ? [i,null] : [i,v]));
const onlySpike = a => [spikeIndex-1,spikeIndex,spikeIndex+1].map(i=>[i,a[i]]);

const chart = echarts.init(document.getElementById('c'), null, {renderer:'canvas'});
const series = [];

series.push({type:'custom', z:1, silent:true, clip:true, data:[0], renderItem:(p,api)=>{
  const kids=[];
  dateTickIndex.forEach(t=>{const a=api.coord([t,yTop]),b=api.coord([t,yBottom]);
    kids.push({type:'line',shape:{x1:a[0],y1:a[1],x2:b[0],y2:b[1]},style:{stroke:'#bbbbbb',lineWidth:1}});});
  const L=api.coord([0,0])[0],R=api.coord([64,0])[0];
  lightLines.forEach(v=>{const y=api.coord([0,v])[1];
    kids.push({type:'line',shape:{x1:L,y1:y,x2:R,y2:y},style:{stroke:'#bbbbbb',lineWidth:1}});});
  heavyLines.forEach(v=>{const y=api.coord([0,v])[1]+.5;
    kids.push({type:'line',shape:{x1:L,y1:y,x2:R,y2:y},style:{stroke:'#bbbbbb',lineWidth:2}});});
  const y0=api.coord([0,0])[1];
  kids.push({type:'line',shape:{x1:L,y1:y0+.5,x2:R,y2:y0+.5},style:{stroke:'#bbbbbb',lineWidth:2}});
  kids.push({type:'line',shape:{x1:L,y1:y0-.5,x2:R,y2:y0-.5},style:{stroke:'#808080',lineWidth:1}});
  return {type:'group',children:kids};
}});

function memberSeries(arr, color, axis){
  return {type:'line', data:pts(arr), yAxisIndex:axis, z:2, silent:true, animation:false,
    symbol:'diamond', symbolSize:3.5, showSymbol:true,
    lineStyle:{color, width:1}, itemStyle:{color}};
}
function mainSeries(data, color, width, axis, z){
  return {type:'line', data, yAxisIndex:axis, z, silent:true, animation:false, connectNulls:false,
    showSymbol:false, symbol:'none', lineStyle:{color, width, cap:'round', join:'round'}, itemStyle:{color}};
}
[membersT850, membersT500].forEach(g=>g.forEach((a,i)=>series.push(memberSeries(a,memberColors[i],0))));
membersPrecip.forEach((a,i)=>series.push(memberSeries(a,memberColors[i],1)));
[[gfsT850,0],[gfsT500,0],[gfsPrecip,1]].forEach(([a,ax])=>series.push(mainSeries(pts(a),'#000000',3,ax,3)));
[[controlT850,0],[controlT500,0],[controlPrecip,1]].forEach(([a,ax])=>series.push(mainSeries(pts(a),'#0000ff',3,ax,3)));
series.push(mainSeries(withoutSpike(meanT850),'#ff0000',3.5,0,3));
series.push(mainSeries(onlySpike(meanT850),'#ff0000',1.5,0,3));
series.push(mainSeries(pts(meanT500),'#ff0000',3.5,0,3));

series.push({type:'custom', z:4, silent:true, clip:true, data:[0], renderItem:(p,api)=>{
  const a=api.coord([snowBand[0],yTop]), b=api.coord([snowBand[1],snowBand[2]]);
  return {type:'rect',shape:{x:a[0],y:a[1],width:b[0]-a[0],height:b[1]-a[1]},style:{fill:'#c4fcff'}};
}});
series.push(mainSeries(withoutSpike(meanPrecip),'#ff0000',3,1,5));
series.push(mainSeries(onlySpike(meanPrecip),'#ff0000',1.5,1,5));

glitchLines.forEach(x=>series.push({type:'line',z:6,silent:true,clip:false,animation:false,showSymbol:false,symbol:'none',
  data:[[x,yTop],[x,imageBottomValue]],lineStyle:{color:'#8080ff',width:1}}));

const t=(x,y,text,o={})=>({type:'text',x,y,silent:true,z:20,style:Object.assign({text,fill:'#000',font:'10px '+MONO,textVerticalAlign:'middle',textBaseline:'middle'},o)});
const seg=(x,y,w,h,fill)=>({type:'rect',silent:true,z:20,shape:{x,y,width:w,height:h},style:{fill}});
const FLAKE='bold 15px "DejaVu Sans"';

const graphic=[
  t(59,81,'Temp. 850hPa'), t(59,290,'Temp. 500hPa'), t(59,511,'Précipitations'),
  t(20,607,'(°C)'), t(711,607,'(mm)'),
  seg(35,630,31,4,'#ff0000'), t(75,637,'Moyenne des scénarios'),
  seg(225,635,31,4,'#0000ff'), t(264,637,'Run de contrôle'),
  seg(225,645,31,4,'#000000'), t(264,647,'Run GFS'),
  t(60,658,'❄',{fill:'#3a9be0',font:FLAKE,textAlign:'center'}),
  t(75,659,'Risque neige (par rapport a tous les scénarios)'),
  t(369,652,'20 Perturbations'),
  {type:'rect',silent:true,z:20,shape:{x:20.5,y:667.5,width:420,height:32},style:{fill:'none',stroke:'#000',lineWidth:1}},
  t(30,677.5,'Diagramme des ensembles GEFS sur 384h : 52.1N 5.2E',{font:'bold 11.6px '+MONO}),
  t(30,692,'Températures 850hPa et 500hPa (°C) , précipitations (mm)'),
  t(449.5,672.5,'Ensemble GEFS du 30/07/2013 - 18h'),
  t(449.5,692,'Copyright 2013 Meteociel.fr',{font:'bold 11.6px '+MONO}),
  {type:'text',silent:true,z:20,x:659,y:568,rotation:Math.PI/2,style:{text:'2737 0%',fill:'#0040c0',font:'bold 7px '+MONO,textAlign:'center',textBaseline:'middle'}},
  t(660,588,'❄',{fill:'#3a9be0',font:FLAKE,textAlign:'center'})
];
memberColors.forEach((c,i)=>{
  graphic.push(seg(470+11*i,650,10,6,c));
  graphic.push(t(475+11*i,644,String(i+1).padStart(2,'0'),{font:'7.5px '+MONO,textAlign:'center'}));
});

chart.setOption({
  animation:false, backgroundColor:'#fff',
  textStyle:{fontFamily:MONO},
  grid:{left:50.5,top:0,width:640,height:600.5,containLabel:false},
  xAxis:{type:'value',min:0,max:64,
    axisLine:{show:true,onZero:false,lineStyle:{color:'#000',width:1}},
    axisTick:{show:false},splitLine:{show:false},
    axisLabel:{show:true,rotate:90,margin:2,color:'#000',fontFamily:MONO,fontSize:10,
      customValues:dateTickIndex.map(v=>v+.75),showMinLabel:true,showMaxLabel:true,
      formatter:v=>dateLabels[dateTickIndex.indexOf(Math.round(v-.75))]||''}},
  yAxis:[
    {type:'value',position:'left',min:yBottom,max:yTop,
      axisLine:{show:true,onZero:false,lineStyle:{color:'#000',width:1}},
      axisTick:{show:false},splitLine:{show:false},
      axisLabel:{show:true,align:'left',verticalAlign:'top',lineHeight:7,margin:30.5,color:'#000',fontFamily:MONO,fontSize:10,customValues:leftTicks,formatter:v=>String(Math.round(v))}},
    {type:'value',position:'right',min:yBottom+45,max:yTop+45,
      axisLine:{show:true,onZero:false,lineStyle:{color:'#000',width:1}},
      axisTick:{show:false},splitLine:{show:false},
      axisLabel:{show:true,align:'left',verticalAlign:'top',lineHeight:7,margin:19.5,color:'#000',fontFamily:MONO,fontSize:10,customValues:rightTicks,formatter:v=>String(Math.round(v))}}
  ],
  series, graphic:{elements:graphic}
});
</script></body></html>
